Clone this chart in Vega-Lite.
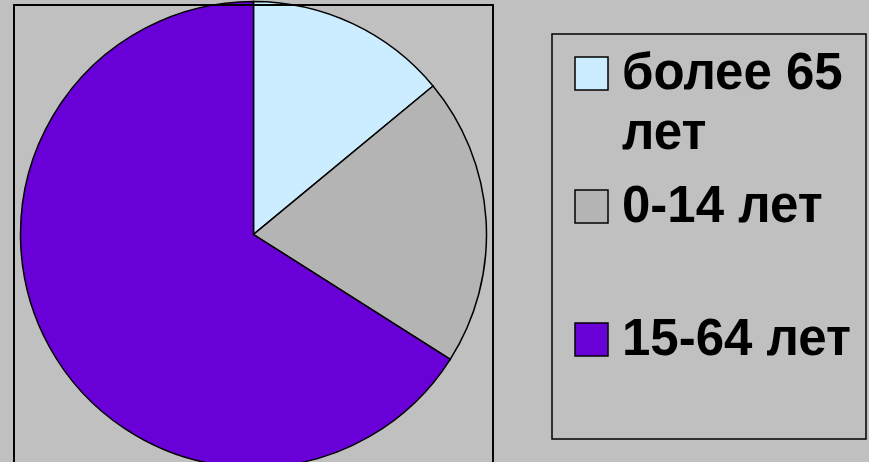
{
  "$schema": "https://vega.github.io/schema/vega-lite/v6.json",
  "width": 479,
  "height": 459,
  "autosize": {"type": "none"},
  "padding": {"left": 14, "top": 5, "right": 376, "bottom": 0},
  "background": "#c0c0c0",
  "data": {
    "values": [
      {"group": "более 65 лет", "share": 14},
      {"group": "0-14 лет", "share": 20},
      {"group": "15-64 лет", "share": 66}
    ]
  },
  "layer": [
    {
      "mark": {"type": "arc", "outerRadius": 233, "stroke": "black", "strokeWidth": 1.5},
      "encoding": {
        "theta": {"field": "share", "type": "quantitative", "stack": true},
        "order": {"field": "share", "type": "quantitative", "sort": "ascending"},
        "color": {
          "field": "group",
          "type": "nominal",
          "sort": null,
          "scale": {
            "domain": ["более 65 лет", "0-14 лет", "15-64 лет"],
            "range": ["#CCECFF", "#B4B4B4", "#6A00D8"]
          },
          "legend": {
            "title": null,
            "orient": "none",
            "legendX": 538,
            "legendY": 29,
            "padding": 14,
            "rowPadding": 21,
            "strokeColor": "black",
            "symbolType": "square",
            "symbolSize": 1089,
            "symbolStrokeColor": "black",
            "symbolStrokeWidth": 1.5,
            "symbolOpacity": 1,
            "labelOffset": 5,
            "labelFont": "Liberation Sans",
            "labelFontWeight": "bold",
            "labelFontSize": 51,
            "labelColor": "black",
            "labelLimit": 500,
            "labelExpr": "datum.label == 'более 65 лет' ? ['более 65', 'лет'] : [datum.label, '']",
            "encode": {
              "legend": {"update": {"strokeWidth": {"value": 1.5}}},
              "labels": {"update": {"lineHeight": {"value": 60}}}
            }
          }
        }
      }
    },
    {
      "mark": {"type": "rect", "fill": null, "fillOpacity": 0, "stroke": "black", "strokeWidth": 1.5},
      "encoding": {}
    }
  ]
}
